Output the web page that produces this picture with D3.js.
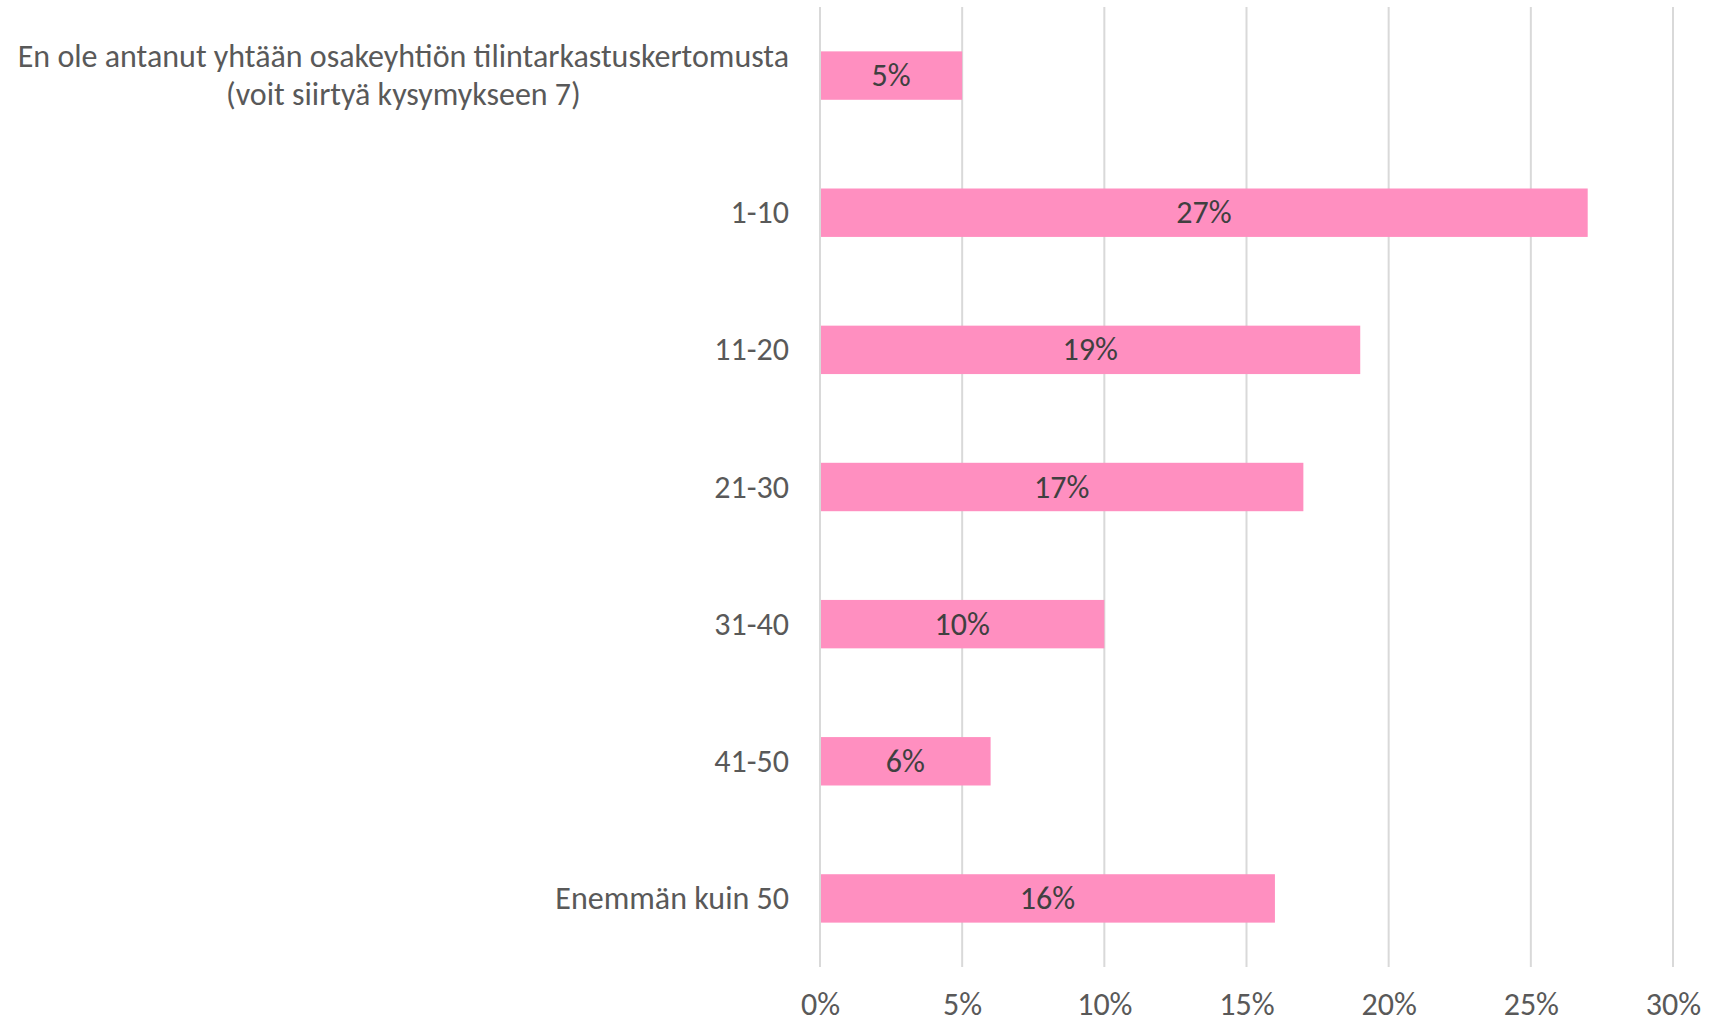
<!DOCTYPE html>
<html>
<head>
<meta charset="utf-8">
<script src="https://cdn.jsdelivr.net/npm/d3@7"></script>
<style>
  body { margin: 0; background: #fff; }
  text { font-family: Carlito, Calibri, "Liberation Sans", sans-serif; }
</style>
</head>
<body>
<div id="chart"></div>
<script>
// Data
var categories = [
  "En ole antanut yhtään osakeyhtiön tilintarkastuskertomusta\n(voit siirtyä kysymykseen 7)",
  "1-10",
  "11-20",
  "21-30",
  "31-40",
  "41-50",
  "Enemmän kuin 50"
];
var values = [5, 27, 19, 17, 10, 6, 16];
var tickValues = [0, 5, 10, 15, 20, 25, 30];

// Chart setup
var svgWidth = 1709;
var svgHeight = 1024;
var margin = { top: 7, right: 36, bottom: 57, left: 820 };
var width = svgWidth - margin.left - margin.right;
var height = svgHeight - margin.top - margin.bottom;

var svg = d3.select("#chart")
  .append("svg")
  .attr("width", svgWidth)
  .attr("height", svgHeight);

var chartGroup = svg.append("g")
  .attr("transform", `translate(${margin.left}, ${margin.top})`);

var xScale = d3.scaleLinear()
  .domain([0, 30])
  .range([0, width]);

var yScale = d3.scaleBand()
  .domain(categories)
  .range([0, height])
  .paddingInner(0.647)
  .paddingOuter(0.3235);

// gridlines
chartGroup.selectAll(".grid")
  .data(tickValues)
  .enter()
  .append("line")
  .attr("x1", d => xScale(d))
  .attr("x2", d => xScale(d))
  .attr("y1", 0)
  .attr("y2", height)
  .attr("stroke", "#d9d9d9")
  .attr("stroke-width", 2);

// x axis (labels only)
var bottomAxis = d3.axisBottom(xScale)
  .tickValues(tickValues)
  .tickFormat(d => d + "%")
  .tickSize(0)
  .tickPadding(0);

var xAxis = chartGroup.append("g")
  .attr("transform", `translate(0, ${height})`)
  .call(bottomAxis);

xAxis.select(".domain").remove();
xAxis.selectAll("text")
  .attr("y", 48)
  .attr("dy", 0)
  .attr("fill", "#595959")
  .style("font-size", "32px")
  .style("font-family", "Carlito, Calibri, sans-serif");

// bars
chartGroup.selectAll("rect")
  .data(values)
  .enter()
  .append("rect")
  .attr("x", xScale(0) + 1)
  .attr("y", (d, i) => yScale(categories[i]))
  .attr("width", d => xScale(d) - xScale(0) - 1)
  .attr("height", yScale.bandwidth())
  .attr("fill", "#ff8fc0");

// bar value labels
chartGroup.selectAll(".barLabel")
  .data(values)
  .enter()
  .append("text")
  .attr("class", "barLabel")
  .attr("x", d => xScale(d / 2))
  .attr("y", (d, i) => yScale(categories[i]) + yScale.bandwidth() / 2)
  .attr("dy", "0.33em")
  .attr("text-anchor", "middle")
  .attr("fill", "#404040")
  .style("font-size", "32px")
  .text(d => d + "%");

// category labels (right aligned block, lines centred inside it)
var labelRight = -31;
categories.forEach(function(cat, i) {
  var lines = cat.split("\n");
  var cy = yScale(cat) + yScale.bandwidth() / 2;
  var g = chartGroup.append("g");
  var texts = lines.map(function(line, j) {
    return g.append("text")
      .attr("y", cy + (j - (lines.length - 1) / 2) * 38)
      .attr("dy", "0.33em")
      .attr("fill", "#595959")
      .style("font-size", "32px")
      .text(line);
  });
  var maxW = d3.max(texts, t => t.node().getComputedTextLength());
  texts.forEach(function(t) {
    t.attr("x", labelRight - maxW / 2).attr("text-anchor", "middle");
  });
});
</script>
</body>
</html>
